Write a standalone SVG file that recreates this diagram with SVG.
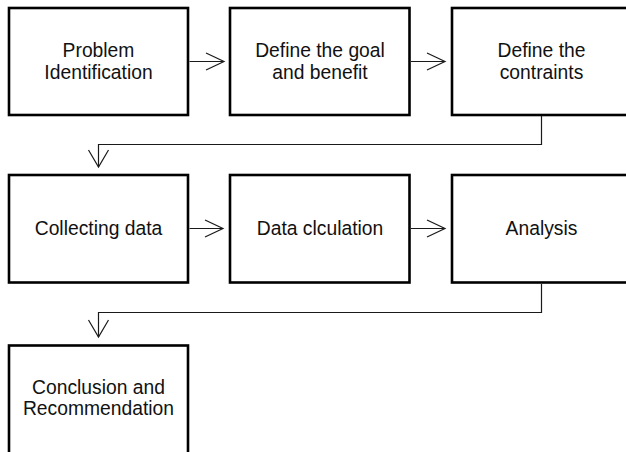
<svg xmlns="http://www.w3.org/2000/svg" width="626" height="452" viewBox="0 0 626 452">
  <style>
    .box { fill: #ffffff; stroke: #000000; stroke-width: 2.6; }
    .label { font-family: "Liberation Sans", Arial, sans-serif; font-size: 19.3px; fill: #111111; text-anchor: middle; }
    .wire { fill: none; stroke: #1a1a1a; stroke-width: 1.2; }
  </style>
  <rect width="626" height="452" fill="#ffffff"/>

  <!-- process steps -->
  <g id="problem-identification">
    <rect class="box" x="9" y="8" width="179" height="107"/>
    <text class="label" x="98.5" y="57">Problem</text>
    <text class="label" x="98.5" y="78.5">Identification</text>
  </g>
  <g id="define-goal">
    <rect class="box" x="230" y="8" width="179.5" height="107"/>
    <text class="label" x="320" y="57">Define the goal</text>
    <text class="label" x="320" y="78.5">and benefit</text>
  </g>
  <g id="define-constraints">
    <rect class="box" x="452" y="8" width="179" height="107"/>
    <text class="label" x="541.5" y="57">Define the</text>
    <text class="label" x="541.5" y="78.5">contraints</text>
  </g>
  <g id="collecting-data">
    <rect class="box" x="9" y="175" width="179" height="107.5"/>
    <text class="label" x="98.5" y="235">Collecting data</text>
  </g>
  <g id="data-calculation">
    <rect class="box" x="230" y="175" width="179.5" height="107.5"/>
    <text class="label" x="320" y="235">Data clculation</text>
  </g>
  <g id="analysis">
    <rect class="box" x="452" y="175" width="179" height="107.5"/>
    <text class="label" x="541.5" y="235">Analysis</text>
  </g>
  <g id="conclusion">
    <rect class="box" x="9" y="345.5" width="179" height="108"/>
    <text class="label" x="98.5" y="393.5">Conclusion and</text>
    <text class="label" x="98.5" y="415">Recommendation</text>
  </g>

  <!-- connectors with open chevron heads -->
  <g id="connectors">
    <path class="wire" d="M189.5 61.5 H224"/>
    <path class="wire" d="M206 53 L224 61.5 L206 70"/>
    <path class="wire" d="M411 61.5 H445"/>
    <path class="wire" d="M427 53 L445 61.5 L427 70"/>

    <path class="wire" d="M541.5 116 V144.5 H98.5 V167"/>
    <path class="wire" d="M88.5 150 L98.5 167 L108.5 150"/>

    <path class="wire" d="M189.5 228.5 H223"/>
    <path class="wire" d="M205 220 L223 228.5 L205 237"/>
    <path class="wire" d="M411 228.5 H445"/>
    <path class="wire" d="M427 220 L445 228.5 L427 237"/>

    <path class="wire" d="M541.5 284 V312.5 H98.5 V337"/>
    <path class="wire" d="M88.5 320 L98.5 337 L108.5 320"/>
  </g>
</svg>
